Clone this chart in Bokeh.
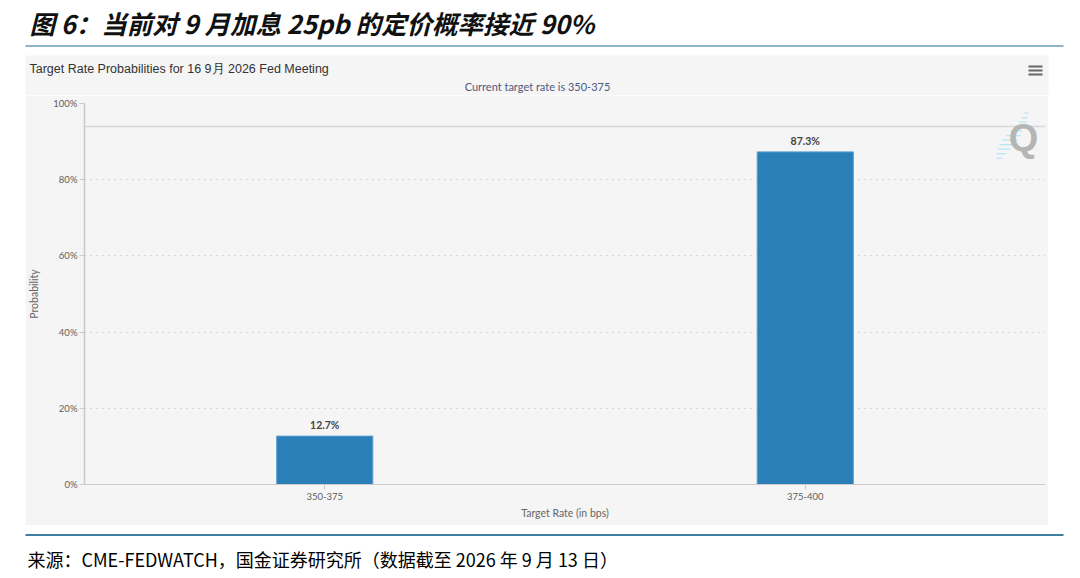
from bokeh.plotting import figure
from bokeh.layouts import column, row
from bokeh.models import (FactorRange, Range1d, FixedTicker, PrintfTickFormatter,
                          Label, BoxAnnotation, Span, ColumnDataSource, Spacer)
from bokeh.core.properties import value
from bokeh.embed import file_html
from bokeh.resources import INLINE

# ---- data ----
categories = ["350-375", "375-400"]
probabilities = [12.7, 87.3]
prob_labels = ["12.7%", "87.3%"]
y_ticks = [0, 20, 40, 60, 80, 100]

page_title = "图 6：当前对 9 月加息 25pb 的定价概率接近 90%"
chart_title = "Target Rate Probabilities for 16 9月 2026 Fed Meeting"
chart_subtitle = "Current target rate is 350-375"
source_text = "来源：CME-FEDWATCH，国金证券研究所（数据截至 2026 年 9 月 13 日）"

W = 1064
TOP_H = 95
MAIN_H = 430
BOT_H = 45
PANEL_L, PANEL_R = 25, 1048


def blank_fig(h):
    f = figure(width=W, height=h, x_range=Range1d(0, W), y_range=Range1d(0, h),
               output_backend="svg", toolbar_location=None,
               x_axis_location=None, y_axis_location=None, min_border=0)
    f.grid.visible = False
    f.outline_line_color = None
    f.background_fill_color = "white"
    f.border_fill_color = "white"
    return f


def box(f, h, x0, x1, y0, y1, color, level="annotation"):
    # page-like coords (y down from the figure's top) -> screen units
    f.add_layout(BoxAnnotation(left=x0, right=x1, top=h - y0, bottom=h - y1,
                               left_units="screen", right_units="screen",
                               top_units="screen", bottom_units="screen",
                               fill_color=color, fill_alpha=1, line_color=None,
                               level=level))


def label(f, h, x, y, text, **kw):
    f.add_layout(Label(x=x, y=h - y, x_units="screen", y_units="screen",
                       text=text, text_baseline="middle", **kw))


# ---- top strip: page title, rule, top part of the panel ----
top = blank_fig(TOP_H)
box(top, TOP_H, PANEL_L, PANEL_R, 55, TOP_H, "#f5f5f5", level="image")
box(top, TOP_H, 25, 1063, 44.5, 46.5, "#8db4c9")
for yy in (65, 69, 73):
    box(top, TOP_H, 1028, 1042, yy, yy + 2, "#666666")
label(top, TOP_H, 29, 22, page_title, text_font="Noto Sans CJK SC",
      text_font_size="25.5px", text_font_style="bold italic", text_color="#111111")
label(top, TOP_H, 29, 68, chart_title, text_font="Liberation Sans",
      text_font_size="12.5px", text_color="#333333")
label(top, TOP_H, 537, 86, chart_subtitle, text_font="Lato",
      text_font_size="11px", text_color="#4d5a80", text_align="center")

# ---- main chart (panel body) ----
src = ColumnDataSource(dict(cat=categories, prob=probabilities, lab=prob_labels))
p = figure(width=PANEL_R - PANEL_L, height=MAIN_H, x_range=FactorRange(*categories),
           y_range=Range1d(0, 100), output_backend="svg", toolbar_location=None,
           min_border_left=57, min_border_right=3, min_border_top=8,
           min_border_bottom=41)
p.background_fill_color = "#f5f5f5"
p.border_fill_color = "#f5f5f5"
p.outline_line_color = None

p.add_layout(Span(location=358, location_units="screen", dimension="width",
                  line_color="#d8d8d8", line_width=1.5))

p.xaxis.axis_line_color = "#cccccc"
p.xaxis.major_tick_line_color = "#cccccc"
p.xaxis.major_tick_out = 5
p.xaxis.major_tick_in = 0
p.xaxis.major_label_standoff = 3
p.xaxis.major_label_text_font = "Lato"
p.xaxis.major_label_text_font_size = "9.5px"
p.xaxis.major_label_text_color = "#606060"
p.xaxis.axis_label = "Target Rate (in bps)"
p.xaxis.axis_label_text_font = "Lato"
p.xaxis.axis_label_text_font_size = "10.5px"
p.xaxis.axis_label_text_font_style = "normal"
p.xaxis.axis_label_text_color = "#666666"
p.xaxis.axis_label_standoff = 4

p.yaxis.ticker = FixedTicker(ticks=y_ticks)
p.yaxis.formatter = PrintfTickFormatter(format="%d%%")
p.yaxis.axis_line_color = "#c8c8c8"
p.yaxis.axis_line_width = 1.5
p.yaxis.major_tick_line_color = "#cccccc"
p.yaxis.major_tick_out = 5
p.yaxis.major_tick_in = 0
p.yaxis.minor_tick_line_color = None
p.yaxis.major_label_standoff = 2
p.yaxis.major_label_text_font = "Lato"
p.yaxis.major_label_text_font_size = "9.5px"
p.yaxis.major_label_text_color = "#606060"
p.yaxis.axis_label = "Probability"
p.yaxis.axis_label_text_font = "Lato"
p.yaxis.axis_label_text_font_size = "10.5px"
p.yaxis.axis_label_text_font_style = "normal"
p.yaxis.axis_label_text_color = "#666666"
p.yaxis.axis_label_standoff = 10

p.xgrid.visible = False
p.ygrid.ticker = FixedTicker(ticks=y_ticks)
p.ygrid.grid_line_color = "#bbbbbb"
p.ygrid.grid_line_dash = "1 5"

p.vbar(x="cat", top="prob", width=0.2, source=src,
       fill_color="#2a7fb8", line_color="#5a9ccc", line_width=1)
p.text(x="cat", y="prob", text="lab", source=src, y_offset=-5,
       text_align="center", text_baseline="bottom",
       text_font=value("Lato"), text_font_size="10.5px", text_font_style="bold",
       text_color="#444444")

# Q logo (inside the plot frame, top right)
for i, (x0, x1) in enumerate([(1022, 1026), (1019, 1025), (1016, 1024), (1012, 1022),
                              (1008, 1020), (1004, 1018), (1000, 1015), (997, 1012),
                              (995, 1008), (994, 1004), (994, 1000)]):
    yy = 112 + i * 4.5
    p.add_layout(BoxAnnotation(left=x0 - 82, right=x1 - 82,
                               top=484 - yy, bottom=484 - yy - 1.2,
                               left_units="screen", right_units="screen",
                               top_units="screen", bottom_units="screen",
                               fill_color="#b8e4f4", fill_alpha=1, line_color=None))
p.add_layout(Label(x=939, y=347, x_units="screen", y_units="screen",
                   text="Q", text_font="Liberation Sans",
                   text_font_size="38px", text_font_style="bold",
                   text_color="#b5b5b5", text_align="center",
                   text_baseline="middle"))

# ---- bottom strip: rule and source ----
bot = blank_fig(BOT_H)
box(bot, BOT_H, 25, 1063, 533.5 - 525, 535.5 - 525, "#3f7f9f")
label(bot, BOT_H, 27, 558 - 525, source_text, text_font="Noto Sans CJK SC",
      text_font_size="18px", text_color="#000000")

layout = column(top, row(Spacer(width=PANEL_L, height=MAIN_H), p), bot)
open("out.html", "w").write(file_html(layout, INLINE))
